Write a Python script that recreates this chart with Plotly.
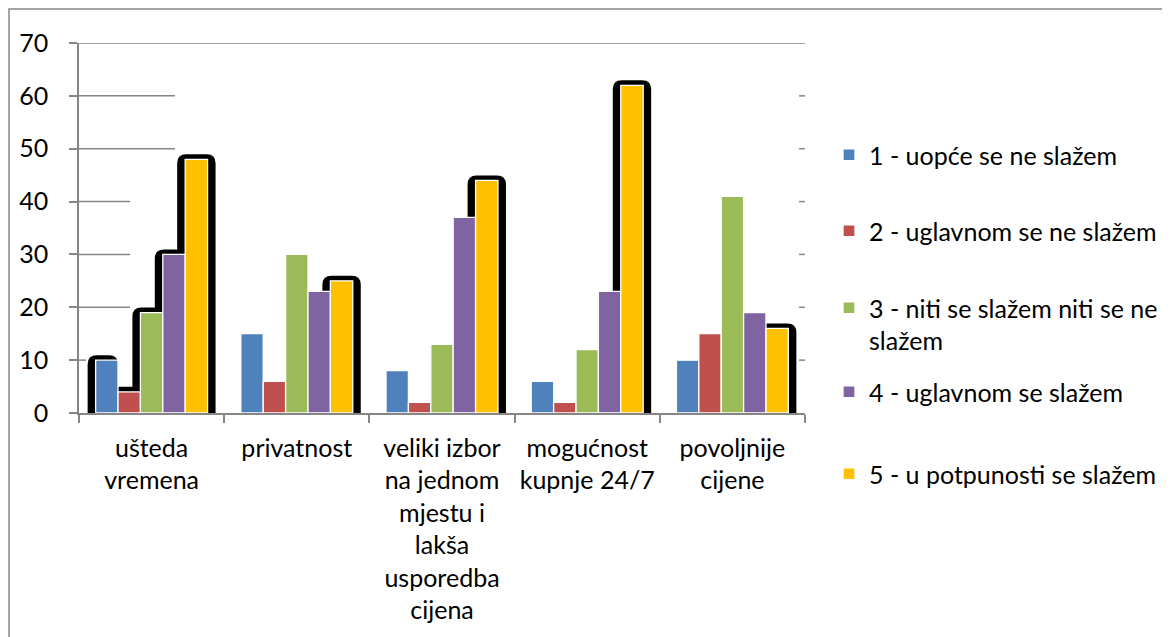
import plotly.graph_objects as go

# ---------------- data ----------------
categories = [
    "ušteda<br>vremena",
    "privatnost",
    "veliki izbor<br>na jednom<br>mjestu i<br>lakša<br>usporedba<br>cijena",
    "mogućnost<br>kupnje 24/7",
    "povoljnije<br>cijene",
]
series_names = [
    "1 - uopće se ne slažem",
    "2 - uglavnom se ne slažem",
    "3 - niti se slažem niti se ne<br>slažem",
    "4 - uglavnom se slažem",
    "5 - u potpunosti se slažem",
]
s1 = [10, 15, 8, 6, 10]
s2 = [4, 6, 2, 2, 15]
s3 = [19, 30, 13, 12, 41]
s4 = [30, 23, 37, 23, 19]
s5 = [48, 25, 44, 62, 16]
series_values = [s1, s2, s3, s4, s5]
y_ticks = [0, 10, 20, 30, 40, 50, 60, 70]
# bars that carry the black rounded shadow: (category index, series index)
shadowed = [(0, 0), (0, 1), (0, 2), (0, 3), (0, 4), (1, 4), (2, 4), (3, 4), (4, 4)]

# ---------------- style ----------------
colors = ["#4F81BD", "#C0504D", "#9BBB59", "#8064A2", "#FFC000"]
FONT = "Lato"
AXIS_COLOR = "#868686"
OFF = 8                      # page body margin of the browser
W, H = 1170 - OFF, 637 - OFF
L, R, T, B = 79 - OFF, 805 - OFF, 43 - OFF, 413 - OFF   # plot area in figure px
PW, PH = R - L, B - T
YMAX = 70
BARGAP = 0.229
n_cat = len(categories)
n_ser = len(series_values)
px_x = n_cat / PW          # category units per pixel
px_y = YMAX / PH           # value units per pixel


def fx(page_x):
    """page pixel x -> paper x"""
    return (page_x - OFF - L) / PW


def fy(page_y):
    """page pixel y -> paper y"""
    return (B - (page_y - OFF)) / PH


xs = list(range(n_cat))

fig = go.Figure()
for k, (name, vals) in enumerate(zip(series_names, series_values)):
    fig.add_trace(go.Bar(
        x=xs, y=vals, name=name,
        marker=dict(color=colors[k], line=dict(color="white", width=1.3)),
        legend="legend" if k == 0 else f"legend{k + 1}",
    ))

shapes = []
# partial grid lines (as rendered in the original)
grid_right_px = {70: 805, 60: 175, 50: 175, 40: 130, 30: 130, 20: 130, 10: 86}
for v, xr in grid_right_px.items():
    shapes.append(dict(type="line", xref="paper", yref="y", layer="below",
                       x0=0, x1=fx(xr), y0=v, y1=v,
                       line=dict(color=AXIS_COLOR, width=1.5)))
    if v != 70:
        shapes.append(dict(type="line", xref="paper", yref="y", layer="below",
                           x0=fx(799), x1=1, y0=v, y1=v,
                           line=dict(color=AXIS_COLOR, width=1.5)))

# black rounded shadows behind selected bars
group_w = 1 - BARGAP
bar_w = group_w / n_ser
rx, ry = 9 * px_x, 9 * px_y
for (i, j) in shadowed:
    v = series_values[j][i]
    xl = i - group_w / 2 + j * bar_w
    xr = xl + bar_w
    x0 = xl - 8 * px_x
    x1 = xr + (8 * px_x if j == n_ser - 1 else 0)
    y0 = -1.5 * px_y
    y1 = v + 5 * px_y
    path = (f"M {x0},{y0} L {x0},{y1 - ry} Q {x0},{y1} {x0 + rx},{y1} "
            f"L {x1 - rx},{y1} Q {x1},{y1} {x1},{y1 - ry} L {x1},{y0} Z")
    shapes.append(dict(type="path", path=path, xref="x", yref="y", layer="below",
                       fillcolor="black", line=dict(width=0)))

# outer chart border
shapes.append(dict(type="rect", xref="paper", yref="paper",
                   x0=fx(9), x1=fx(1200), y0=fy(700), y1=fy(9),
                   line=dict(color=AXIS_COLOR, width=1.5), fillcolor="rgba(0,0,0,0)",
                   layer="below"))

fig.update_layout(
    width=W, height=H,
    margin=dict(l=L, r=W - R, t=T, b=H - B, autoexpand=False),
    paper_bgcolor="white", plot_bgcolor="white",
    barmode="group", bargap=BARGAP, bargroupgap=0,
    font=dict(family=FONT, size=25, color="#000000"),
    shapes=shapes,
    showlegend=True,
)

fig.update_xaxes(
    automargin=False,
    range=[-0.5, n_cat - 0.5],
    tickmode="array", tickvals=xs, ticktext=categories,
    ticks="", showgrid=False, zeroline=False,
    showline=True, linecolor=AXIS_COLOR, linewidth=1.5,
    tickfont=dict(family=FONT, size=25, color="#000000"),
    ticklabelstandoff=12,
    minor=dict(tickmode="array", tickvals=[x - 0.5 for x in range(n_cat + 1)],
               ticks="outside", ticklen=8, tickcolor=AXIS_COLOR, tickwidth=1.5,
               showgrid=False),
)
fig.update_yaxes(
    automargin=False,
    range=[0, YMAX], tickmode="array", tickvals=y_ticks,
    ticks="outside", ticklen=8, tickcolor=AXIS_COLOR, tickwidth=1.5,
    showgrid=False, zeroline=False,
    showline=True, linecolor=AXIS_COLOR, linewidth=1.5,
    tickfont=dict(family=FONT, size=25, color="#000000"),
    ticklabelstandoff=16,
)

# one legend per series to reproduce Excel's uneven vertical placement
legend_centers_px = [155, 231, 324, 392, 474]
for k, cy in enumerate(legend_centers_px):
    key = "legend" if k == 0 else f"legend{k + 1}"
    fig.update_layout(**{key: dict(
        x=fx(829), xanchor="left", y=fy(cy), yanchor="middle",
        font=dict(family=FONT, size=25, color="#000000"),
        bgcolor="rgba(0,0,0,0)", valign="top", itemclick=False,
    )})

fig.write_html("out.html")
